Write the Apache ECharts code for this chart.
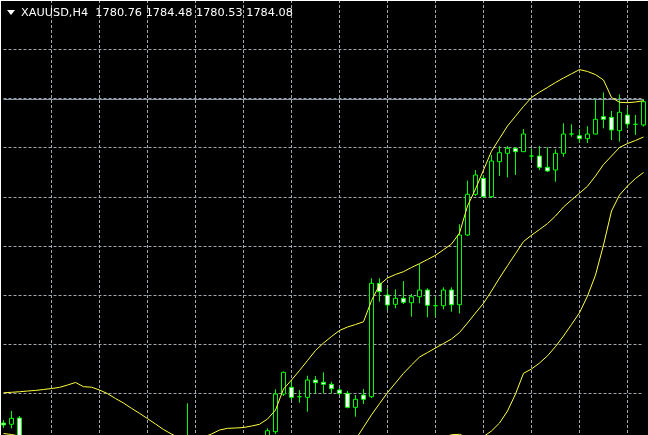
<!DOCTYPE html>
<html>
<head>
<meta charset="utf-8">
<script src="https://cdn.jsdelivr.net/npm/echarts@6/dist/echarts.min.js"></script>
<style>
html,body{margin:0;padding:0;background:#000;}
#chart{width:648px;height:435px;}
</style>
</head>
<body>
<div id="chart"></div>
<script>
const symbol = 'XAUUSD';
const period = 'H4';
const barCount = 81;
const categories = Array.from({length: barCount}, (_, i) => String(i + 1));

const opens = [1738.18,1738.00,1738.90,1735.47,1734.61,1735.04,1734.04,1733.18,1733.61,1732.61,
1731.47,1732.04,1731.18,1731.75,1730.90,1731.47,1730.61,1731.18,1730.32,1730.90,
1731.47,1732.04,1734.04,1733.18,1732.61,1732.04,1732.47,1731.75,1732.32,1731.90,
1732.61,1733.18,1734.04,1735.18,1736.94,1742.32,1743.28,1741.94,1741.85,1744.32,
1744.00,1743.71,1742.90,1742.42,1740.42,1742.18,1741.94,1758.14,1756.47,1755.14,
1756.00,1755.37,1756.22,1757.18,1754.94,1754.94,1757.18,1755.08,1765.04,1770.85,
1773.14,1770.51,1775.51,1776.71,1777.42,1776.94,1776.32,1776.32,1774.71,1774.32,
1776.71,1779.47,1779.22,1778.80,1779.47,1781.94,1781.85,1779.94,1782.18,1780.85,
1780.76];
const closes = [1737.90,1738.85,1735.47,1734.61,1735.04,1734.04,1733.18,1733.61,1732.61,1731.47,
1732.04,1731.18,1731.75,1730.90,1731.47,1730.61,1731.18,1730.32,1730.90,1731.47,
1732.04,1734.04,1733.18,1732.61,1732.04,1732.47,1731.75,1732.32,1731.90,1732.61,
1733.18,1734.04,1735.18,1737.08,1742.32,1745.42,1741.85,1741.94,1744.32,1743.94,
1743.71,1743.08,1742.42,1740.42,1741.57,1741.57,1758.14,1756.94,1755.04,1756.00,
1755.42,1756.22,1757.18,1755.00,1754.94,1757.18,1755.08,1765.04,1770.85,1773.61,
1770.51,1775.61,1776.80,1777.42,1776.94,1779.47,1776.32,1774.71,1774.18,1776.71,
1779.47,1779.47,1778.80,1779.47,1781.57,1781.57,1780.04,1782.57,1780.90,1780.85,
1784.08];
const lows = [1737.47,1737.42,1734.90,1734.04,1733.90,1733.47,1732.47,1732.61,1731.75,1730.61,
1730.90,1730.32,1730.47,1730.04,1730.18,1729.90,1730.04,1729.47,1729.75,1730.32,
1730.90,1731.47,1732.18,1731.47,1731.18,1731.32,1730.90,1731.18,1731.04,1731.47,
1732.04,1732.61,1733.47,1734.75,1736.61,1742.04,1741.47,1741.08,1739.80,1742.42,
1742.42,1742.42,1742.18,1740.28,1739.08,1740.90,1741.75,1755.51,1754.32,1754.57,
1755.18,1753.37,1755.28,1753.28,1753.37,1754.42,1754.08,1753.85,1764.90,1770.61,
1770.32,1770.32,1773.47,1773.28,1773.61,1776.90,1775.75,1774.32,1774.04,1772.65,
1776.22,1779.08,1778.25,1778.18,1779.40,1780.28,1778.61,1778.37,1780.28,1779.32,
1780.53];
const highs = [1738.61,1739.90,1739.18,1735.90,1735.61,1735.75,1734.61,1734.32,1734.04,1733.18,
1732.75,1732.61,1732.32,1732.47,1732.04,1732.18,1731.90,1731.75,1731.47,1732.32,
1733.18,1736.40,1735.04,1741.00,1733.61,1733.18,1733.32,1733.04,1733.18,1733.47,
1734.32,1734.90,1736.04,1737.42,1743.00,1745.54,1744.18,1742.90,1744.94,1744.90,
1745.42,1744.08,1743.14,1742.75,1742.18,1743.04,1758.85,1758.85,1757.42,1757.28,
1758.47,1756.61,1760.90,1757.42,1756.22,1757.57,1757.57,1766.57,1772.80,1774.32,
1773.61,1776.47,1777.75,1777.75,1777.61,1780.18,1777.42,1777.75,1777.57,1777.28,
1781.00,1780.85,1780.14,1780.57,1784.57,1785.40,1782.75,1785.11,1783.18,1782.18,
1784.48];

const bbUpper = [1742.50,1742.57,1742.65,1742.75,1742.84,1742.97,1743.11,1743.27,1743.61,1743.97,
1743.37,1743.30,1742.90,1742.38,1741.68,1741.04,1740.28,1739.57,1738.81,1738.04,
1737.25,1736.61,1736.04,1735.75,1735.75,1736.18,1736.61,1737.18,1737.42,1737.47,
1737.54,1737.75,1738.00,1738.75,1740.04,1743.04,1744.32,1745.68,1747.11,1748.54,
1749.61,1750.54,1751.40,1751.90,1752.25,1752.65,1755.65,1757.92,1758.90,1759.40,
1759.80,1760.40,1760.95,1761.54,1762.14,1762.94,1763.75,1765.32,1769.18,1771.61,
1774.32,1777.01,1778.82,1780.61,1782.01,1783.41,1784.68,1785.44,1786.12,1786.82,
1787.47,1788.07,1788.67,1788.40,1787.95,1787.18,1784.68,1784.00,1783.94,1784.04,
1784.22];
const bbMiddle = [1736.68,1736.54,1736.32,1736.11,1735.90,1735.61,1735.32,1735.04,1734.68,1734.32,
1734.04,1733.68,1733.32,1732.97,1732.61,1732.32,1732.04,1731.75,1731.47,1731.25,
1731.11,1731.04,1730.97,1730.90,1730.82,1730.82,1730.82,1730.75,1730.75,1730.68,
1730.61,1730.47,1730.32,1730.32,1730.61,1731.18,1731.75,1732.32,1733.04,1733.61,
1734.18,1734.61,1735.04,1735.47,1735.82,1737.58,1739.35,1740.95,1742.52,1743.90,
1745.28,1746.47,1747.61,1748.25,1748.90,1749.54,1750.18,1751.11,1752.47,1753.90,
1755.28,1757.04,1758.90,1760.65,1762.37,1764.11,1765.01,1765.82,1766.67,1767.75,
1769.04,1770.04,1771.01,1772.00,1773.47,1775.11,1776.32,1777.54,1778.11,1778.54,
1779.04];
const bbLower = [1730.90,1730.54,1730.04,1729.47,1728.97,1728.18,1727.47,1726.75,1725.75,1724.75,
1724.61,1724.04,1723.75,1723.54,1723.54,1723.61,1723.75,1723.90,1724.11,1724.47,
1724.97,1725.47,1725.90,1726.04,1725.90,1725.47,1725.04,1724.32,1724.11,1723.90,
1723.68,1723.18,1722.68,1721.90,1721.18,1719.32,1719.18,1718.97,1718.97,1718.68,
1718.75,1718.68,1718.68,1719.04,1719.40,1722.54,1723.04,1724.04,1726.18,1728.40,
1730.75,1732.54,1734.25,1734.97,1735.61,1736.11,1736.51,1736.57,1736.11,1736.04,
1736.25,1737.04,1738.18,1739.90,1742.32,1745.28,1745.90,1746.75,1747.78,1749.10,
1750.61,1752.25,1753.94,1756.32,1759.32,1763.61,1768.47,1770.75,1772.04,1773.11,
1773.97];

const askLine = 1784.50;
const priceMin = 1736.47;
const priceMax = 1798.61;

const candles = opens.map((o, i) => [o, closes[i], lows[i], highs[i]]);
const last = candles.length - 1;
const fmt = v => v.toFixed(2);
const headerText = symbol + ',' + period + '  ' + fmt(opens[last]) + ' ' + fmt(highs[last]) + ' ' + fmt(lows[last]) + ' ' + fmt(closes[last]);

const chart = echarts.init(document.getElementById('chart'), null, {renderer: 'canvas'});
const gridColor = '#a3a8ae';
const bandStyle = {color: '#ffff40', width: 1};

chart.setOption({
  animation: false,
  backgroundColor: '#000000',
  grid: {left: 3.5, right: 4.5, top: 0, bottom: 0, containLabel: false},
  xAxis: {
    type: 'category',
    data: categories,
    boundaryGap: false,
    axisLine: {show: false},
    axisTick: {show: false},
    axisLabel: {show: false},
    splitLine: {
      show: true,
      interval: (index) => index % 6 === 0 && index !== 0,
      lineStyle: {color: gridColor, type: [3, 2], width: 1}
    }
  },
  yAxis: [{
    type: 'value',
    min: priceMin,
    max: priceMax,
    show: false,
    splitLine: {show: false}
  }, {
    type: 'value',
    min: 0,
    max: 435,
    interval: 49.2,
    inverse: true,
    axisLine: {show: false},
    axisTick: {show: false},
    axisLabel: {show: false},
    splitLine: {show: true, lineStyle: {color: gridColor, type: [3, 2], width: 1}}
  }],
  series: [{
    type: 'candlestick',
    data: candles,
    yAxisIndex: 0,
    barWidth: 4,
    clip: false,
    itemStyle: {
      color: '#000000',
      color0: '#ffffff',
      borderColor: '#00ff00',
      borderColor0: '#00ff00',
      borderWidth: 1
    },
    markLine: {
      silent: true,
      symbol: 'none',
      label: {show: false},
      lineStyle: {color: '#8a96a3', type: 'solid', width: 1},
      data: [{yAxis: askLine}]
    },
    z: 3
  }, {
    type: 'line', data: bbUpper, yAxisIndex: 0, symbol: 'none', lineStyle: bandStyle, z: 5
  }, {
    type: 'line', data: bbMiddle, yAxisIndex: 0, symbol: 'none', lineStyle: bandStyle, z: 5
  }, {
    type: 'line', data: bbLower, yAxisIndex: 0, symbol: 'none', lineStyle: bandStyle, z: 5
  }],
  graphic: [
    {type: 'line', shape: {x1: 0, y1: 0.5, x2: 648, y2: 0.5}, style: {stroke: '#ffffff', lineWidth: 1}, z: 100},
    {type: 'line', shape: {x1: 0.5, y1: 0, x2: 0.5, y2: 435}, style: {stroke: '#ffffff', lineWidth: 1}, z: 100},
    {type: 'polygon', shape: {points: [[7, 10], [15, 10], [11, 15]]}, style: {fill: '#ffffff'}, z: 100},
    {type: 'text', x: 21, y: 13.5, style: {text: headerText, fill: '#ffffff', font: '11.3px "DejaVu Sans"', textAlign: 'left', textVerticalAlign: 'middle'}, z: 100}
  ]
});
</script>
</body>
</html>
